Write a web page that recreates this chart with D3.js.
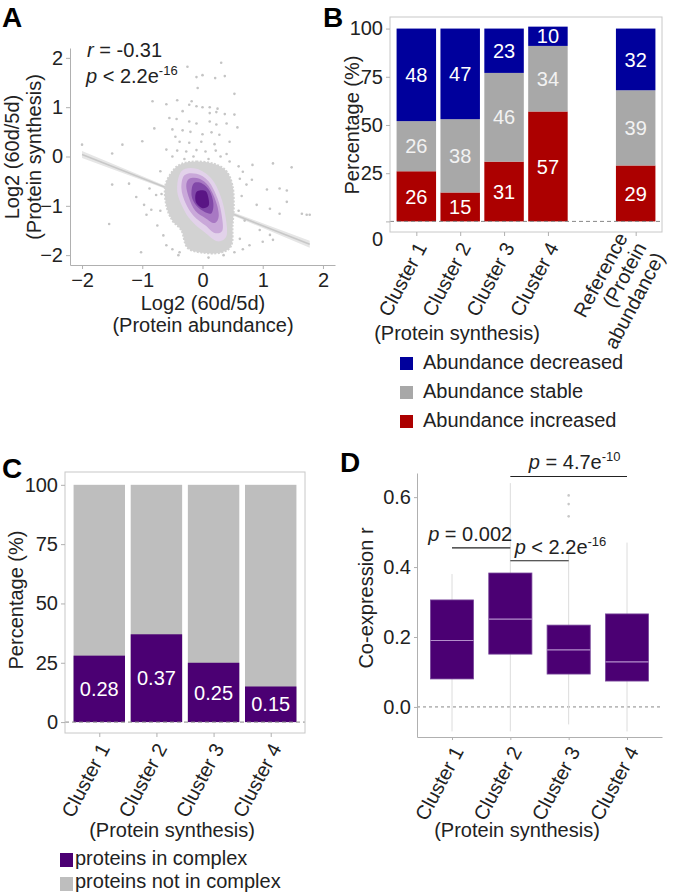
<!DOCTYPE html>
<html>
<head>
<meta charset="utf-8">
<script src="https://cdn.jsdelivr.net/npm/d3@7"></script>
<style>
body { margin: 0; background: #fff; }
text { font-family: "Liberation Sans", Arial, sans-serif; fill: #222; }
</style>
</head>
<body>
<script>
// ---------- panel A : protein synthesis vs abundance ----------
var outX = [0.31,-0.25,-0.1,0,0.21,0.37,-0.08,0.53,-0.83,-0.6,-0.42,-0.22,-0.1,0,0.12,0.25,-0.33,0.12,0.23,0.37,0.53,-0.55,-0.43,-0.22,-0.1,0.12,0.23,0.4,0.58,-0.8,-0.5,-0.33,-0.2,0,0.15,0.28,-1.33,-1.0,-2.0,-0.38,-0.22,-0.02,-0.6,-0.42,-0.27,-0.1,0.05,0.22,
  -0.18,0.83,-1.5,-1.5,-1.22,-1.55,-1.02,-1.1,-0.97,-0.85,-0.93,-0.88,-0.77,-0.68,1.17,1.48,0.67,0.82,0.73,1.07,1.28,1.4,0.9,1.12,1.28,1.4,1.65,1.73,1.78,0.95,1.12,1.17,1.0,0.62,0.78,0.67,0.53,-0.6,-0.5,-0.38,
  -0.5,-0.3,0.3,0.45,0.6,-0.7,0.62,0.65,0.6,0.7,-0.7,-0.75,-0.65,-0.4,0.1,0.35,-0.15,0.1,0.2,-0.45,0.45,0.4];
var outY = [1.9,1.82,1.61,1.65,1.59,1.63,1.39,1.27,1.12,1.06,1.14,1.05,1.02,1.0,1.0,0.97,0.92,0.88,0.9,0.86,0.85,0.78,0.76,0.71,0.67,0.71,0.65,0.67,0.59,0.57,0.55,0.53,0.5,0.45,0.49,0.44,0.24,0.31,0.24,0.3,0.28,0.3,0.14,0.12,0.1,0.13,0.1,0.12,
  1.12,-0.17,0.06,-0.57,-0.55,-1.37,-1.94,-0.82,-0.98,-1.08,-1.18,-0.65,-0.78,-0.76,-0.14,-0.22,-0.31,-0.47,-0.57,-0.67,-0.65,-0.69,-0.98,-1.06,-1.16,-0.92,-1.16,-1.18,-1.18,-1.49,-1.59,-1.69,-1.73,-1.67,-1.8,-1.88,-1.94,-1.8,-1.88,-1.94,
  0.0,-0.05,0.0,-0.1,-0.2,-0.3,-0.45,-0.8,-1.1,-1.3,-1.1,-1.4,-1.6,-2.0,-2.05,-2.0,0.0,-0.05,0.25,0.4,0.3,0.05];
// outline of the dense grey cloud
var coreX = [-0.35,-0.1,0.2,0.4,0.5,0.52,0.5,0.48,0.3,0.0,-0.25,-0.35,-0.5,-0.6,-0.62,-0.5];
var coreY = [-0.15,-0.1,-0.15,-0.3,-0.6,-1.0,-1.4,-1.8,-1.95,-1.95,-1.85,-1.5,-1.3,-1.0,-0.6,-0.3];
// density contours, outer to inner
var densityLevels = [
  [[-0.35,-0.3],[-0.1,-0.25],[0.15,-0.45],[0.3,-0.8],[0.38,-1.2],[0.4,-1.6],[0.25,-1.72],[0.05,-1.55],[-0.15,-1.35],[-0.3,-1.1],[-0.42,-0.7]],
  [[-0.3,-0.38],[-0.1,-0.35],[0.1,-0.5],[0.25,-0.85],[0.32,-1.2],[0.33,-1.5],[0.2,-1.55],[0.05,-1.4],[-0.15,-1.2],[-0.28,-0.95],[-0.35,-0.65]],
  [[-0.22,-0.45],[-0.05,-0.45],[0.1,-0.6],[0.22,-0.9],[0.27,-1.2],[0.2,-1.35],[0.05,-1.25],[-0.12,-1.1],[-0.22,-0.85],[-0.27,-0.6]],
  [[-0.15,-0.55],[0.0,-0.55],[0.12,-0.7],[0.18,-0.95],[0.15,-1.15],[0.03,-1.12],[-0.1,-1.0],[-0.18,-0.8]],
  [[-0.08,-0.7],[0.05,-0.7],[0.1,-0.85],[0.1,-1.0],[0.0,-1.05],[-0.1,-0.95],[-0.12,-0.8]]
];
var fitX = [-2.0, -0.1, 1.78];
var fitY = [0.04, -0.87, -1.78];
var fitCI = [0.07, 0.015, 0.07];
var aTicks = [-2, -1, 0, 1, 2];

// ---------- panel B : abundance change per cluster ----------
var bCats = ['Cluster 1', 'Cluster 2', 'Cluster 3', 'Cluster 4', 'Reference'];
var bIncreased = [26, 15, 31, 57, 29];
var bStable = [26, 38, 46, 34, 39];
var bDecreased = [48, 47, 23, 10, 32];
var bTicks = [0, 25, 50, 75, 100];

// ---------- panel C : proteins in complex ----------
var cCats = ['Cluster 1', 'Cluster 2', 'Cluster 3', 'Cluster 4'];
var cInComplex = [0.28, 0.37, 0.25, 0.15];
var cTicks = [0, 25, 50, 75, 100];

// ---------- panel D : co-expression boxplots ----------
var dCats = ['Cluster 1', 'Cluster 2', 'Cluster 3', 'Cluster 4'];
var dLow = [-0.07, -0.07, -0.05, -0.07];
var dQ1 = [0.08, 0.151, 0.094, 0.074];
var dMedian = [0.19, 0.251, 0.163, 0.129];
var dQ3 = [0.306, 0.383, 0.234, 0.266];
var dHigh = [0.38, 0.64, 0.44, 0.47];
var dOutliers = [['Cluster 3', 0.605], ['Cluster 3', 0.58], ['Cluster 3', 0.545]];
var dTicks = [0, 0.2, 0.4, 0.6];

var purple = '#4b0073';
var axisGrey = '#b0b0b0';

var svg = d3.select('body').append('svg')
    .attr('width', 676)
    .attr('height', 893);

function panelLetter(t, x, y) {
  svg.append('text').attr('x', x).attr('y', y)
    .attr('font-size', 28).attr('font-weight', 'bold').style('fill', '#000')
    .text(t);
}

function styleAxis(g) {
  g.selectAll('text').attr('font-size', 20).attr('fill', '#222');
  g.selectAll('line').attr('stroke', axisGrey);
  g.select('.domain').attr('stroke', axisGrey);
}

// rotated category labels, lines = array of strings
function rotLabel(g, x, y, lines) {
  var t = g.append('text')
    .attr('transform', 'translate(' + x + ',' + y + ') rotate(-62)')
    .attr('text-anchor', 'end')
    .attr('font-size', 20);
  var off = -(lines.length - 1) / 2 * 1.05;
  lines.forEach(function(s, i) {
    t.append('tspan').attr('x', 0)
      .attr('dy', (i == 0 ? off + 0.35 : 1.05) + 'em')
      .text(s);
  });
}

// ================= A =================
panelLetter('A', 2, 27);
var ax = d3.scaleLinear().domain([-2.2, 2.2]).range([70, 335]);
var ay = d3.scaleLinear().domain([-2.2, 2.2]).range([265, 48]);
var gA = svg.append('g');

var band = d3.area()
    .x(function(d, i) { return ax(fitX[i]); })
    .y0(function(d, i) { return ay(fitY[i] - fitCI[i]); })
    .y1(function(d, i) { return ay(fitY[i] + fitCI[i]); });
gA.append('path').datum(fitX).attr('d', band).attr('fill', '#e6e6e6');
gA.append('line')
    .attr('x1', ax(fitX[0])).attr('y1', ay(fitY[0]))
    .attr('x2', ax(fitX[2])).attr('y2', ay(fitY[2]))
    .attr('stroke', '#c8c8c8').attr('stroke-width', 1.5);

gA.selectAll('circle.pt').data(outX).enter().append('circle')
    .attr('cx', function(d) { return ax(d); })
    .attr('cy', function(d, i) { return ay(outY[i]); })
    .attr('r', 1.3).attr('fill', '#c4c4c4');

var blobLine = d3.line()
    .x(function(d) { return ax(d[0]); })
    .y(function(d) { return ay(d[1]); })
    .curve(d3.curveCardinalClosed);
gA.append('path')
    .datum(coreX.map(function(v, i) { return [v, coreY[i]]; }))
    .attr('d', blobLine).attr('fill', '#d2d2d2')
    .attr('stroke', '#d2d2d2').attr('stroke-width', 2).attr('stroke-dasharray', '2,1.5');
var levelFill = ['#e2d2ea', '#c9a8d9', '#a878c3', '#8148a8', '#5a1585'];
densityLevels.forEach(function(pts, i) {
  gA.append('path').datum(pts).attr('d', blobLine).attr('fill', levelFill[i]);
});

var axA = gA.append('g').attr('transform', 'translate(0,265)')
    .call(d3.axisBottom(ax).tickValues(aTicks).tickFormat(d3.format('d')).tickSize(4).tickSizeOuter(0).tickPadding(4));
styleAxis(axA);
var ayA = gA.append('g').attr('transform', 'translate(70,0)')
    .call(d3.axisLeft(ay).tickValues(aTicks).tickFormat(d3.format('d')).tickSize(4).tickSizeOuter(0).tickPadding(3));
styleAxis(ayA);

gA.append('text').attr('x', 203).attr('y', 310).attr('text-anchor', 'middle')
    .attr('font-size', 20).text('Log2 (60d/5d)');
gA.append('text').attr('x', 203).attr('y', 332).attr('text-anchor', 'middle')
    .attr('font-size', 20).text('(Protein abundance)');
gA.append('text').attr('transform', 'translate(19,157) rotate(-90)').attr('text-anchor', 'middle')
    .attr('font-size', 20).text('Log2 (60d/5d)');
gA.append('text').attr('transform', 'translate(41,157) rotate(-90)').attr('text-anchor', 'middle')
    .attr('font-size', 20).text('(Protein synthesis)');

var rTxt = gA.append('text').attr('x', 87).attr('y', 57).attr('font-size', 20);
rTxt.append('tspan').attr('font-style', 'italic').text('r');
rTxt.append('tspan').text(' = -0.31');
var pTxt = gA.append('text').attr('x', 86).attr('y', 83).attr('font-size', 20);
pTxt.append('tspan').attr('font-style', 'italic').text('p');
pTxt.append('tspan').text(' < 2.2e');
pTxt.append('tspan').attr('font-size', 13).attr('dy', -8).text('-16');

// ================= B =================
panelLetter('B', 323, 27);
var bDomain = bCats.slice(0, 4).concat(['gap'], bCats.slice(4));
var bx = d3.scalePoint().domain(bDomain).range([390, 662]).padding(0.6);
var by = d3.scaleLinear().domain([-5.5, 106]).range([232, 17]);
var bw = bx.step() * 0.9;
var gB = svg.append('g');

var bRows = bCats.map(function(c, i) {
  return { cat: c, inc: bIncreased[i], sta: bStable[i], dec: bDecreased[i] };
});
var bKeys = ['inc', 'sta', 'dec'];
var bColor = { inc: '#ac0000', sta: '#a8a8a8', dec: '#00009c' };
var bStack = d3.stack().keys(bKeys)(bRows);
bStack.forEach(function(layer) {
  var k = layer.key;
  gB.selectAll('rect.' + k).data(layer).enter().append('rect')
    .attr('x', function(d) { return bx(d.data.cat) - bw / 2; })
    .attr('y', function(d) { return by(d[1]); })
    .attr('width', bw)
    .attr('height', function(d) { return by(d[0]) - by(d[1]); })
    .attr('fill', bColor[k]);
  gB.selectAll('text.' + k).data(layer).enter().append('text')
    .attr('x', function(d) { return bx(d.data.cat); })
    .attr('y', function(d) { return by((d[0] + d[1]) / 2); })
    .attr('dy', '0.36em').attr('text-anchor', 'middle')
    .attr('font-size', 20).style('fill', k == 'sta' ? '#f2f2f2' : '#fff')
    .text(function(d) { return d.data[k]; });
});
gB.append('line').attr('x1', 390).attr('x2', 662).attr('y1', by(0)).attr('y2', by(0))
    .attr('stroke', '#888').attr('stroke-dasharray', '4,3');
gB.append('rect').attr('x', 390).attr('y', 17).attr('width', 272).attr('height', 215)
    .attr('fill', 'none').attr('stroke', '#c8c8c8');

var byAx = gB.append('g').attr('transform', 'translate(390,0)')
    .call(d3.axisLeft(by).tickValues(bTicks).tickSize(4).tickSizeOuter(0).tickPadding(3));
styleAxis(byAx);
byAx.select('.domain').remove();
byAx.selectAll('.tick').filter(function(d) { return d == 0; }).select('text').attr('dy', '1.2em');
var bxAx = gB.append('g').attr('transform', 'translate(0,232)')
    .call(d3.axisBottom(bx).tickValues(bCats).tickSize(4).tickSizeOuter(0).tickFormat(''));
styleAxis(bxAx);
bxAx.select('.domain').remove();
bCats.forEach(function(c) {
  var lines = c == 'Reference' ? ['Reference', '(Protein', 'abundance)'] : [c];
  rotLabel(gB, bx(c) + 5, 244, lines);
});
gB.append('text').attr('transform', 'translate(359,125) rotate(-90)').attr('text-anchor', 'middle')
    .attr('font-size', 20).text('Percentage (%)');
gB.append('text').attr('x', 457).attr('y', 340).attr('text-anchor', 'middle')
    .attr('font-size', 20).text('(Protein synthesis)');
var bLegend = [['dec', 'Abundance decreased'], ['sta', 'Abundance stable'], ['inc', 'Abundance increased']];
bLegend.forEach(function(d, i) {
  gB.append('rect').attr('x', 400).attr('y', 357 + i * 29).attr('width', 13).attr('height', 13)
    .attr('fill', bColor[d[0]]);
  gB.append('text').attr('x', 423).attr('y', 369 + i * 29).attr('font-size', 20).text(d[1]);
});

// ================= C =================
panelLetter('C', 2, 478);
var cx = d3.scalePoint().domain(cCats).range([65, 305]).padding(0.6);
var cy = d3.scaleLinear().domain([-4.6, 105.4]).range([733, 472]);
var cw = cx.step() * 0.9;
var gC = svg.append('g');
gC.selectAll('rect.bg').data(cCats).enter().append('rect')
    .attr('x', function(d) { return cx(d) - cw / 2; })
    .attr('y', cy(100)).attr('width', cw).attr('height', cy(0) - cy(100))
    .attr('fill', '#bebebe');
gC.selectAll('rect.in').data(cInComplex).enter().append('rect')
    .attr('x', function(d, i) { return cx(cCats[i]) - cw / 2; })
    .attr('y', function(d) { return cy(d * 100); })
    .attr('width', cw)
    .attr('height', function(d) { return cy(0) - cy(d * 100); })
    .attr('fill', purple);
gC.selectAll('text.val').data(cInComplex).enter().append('text')
    .attr('x', function(d, i) { return cx(cCats[i]); })
    .attr('y', function(d) { return cy(d * 50); })
    .attr('dy', '0.36em').attr('text-anchor', 'middle').attr('font-size', 20)
    .style('fill', '#fff')
    .text(function(d) { return d.toFixed(2); });
gC.append('line').attr('x1', 65).attr('x2', 305).attr('y1', cy(0)).attr('y2', cy(0))
    .attr('stroke', '#888').attr('stroke-dasharray', '4,3');
gC.append('rect').attr('x', 65).attr('y', 472).attr('width', 240).attr('height', 261)
    .attr('fill', 'none').attr('stroke', '#c8c8c8');
var cyAx = gC.append('g').attr('transform', 'translate(65,0)')
    .call(d3.axisLeft(cy).tickValues(cTicks).tickSize(4).tickSizeOuter(0).tickPadding(3));
styleAxis(cyAx);
cyAx.select('.domain').remove();
var cxAx = gC.append('g').attr('transform', 'translate(0,733)')
    .call(d3.axisBottom(cx).tickSize(4).tickSizeOuter(0).tickFormat(''));
styleAxis(cxAx);
cxAx.select('.domain').remove();
cCats.forEach(function(c) { rotLabel(gC, cx(c) + 5, 745, [c]); });
gC.append('text').attr('transform', 'translate(23,600) rotate(-90)').attr('text-anchor', 'middle')
    .attr('font-size', 20).text('Percentage (%)');
gC.append('text').attr('x', 172).attr('y', 837).attr('text-anchor', 'middle')
    .attr('font-size', 20).text('(Protein synthesis)');
var cLegend = [[purple, 'proteins in complex'], ['#bebebe', 'proteins not in complex']];
cLegend.forEach(function(d, i) {
  gC.append('rect').attr('x', 60).attr('y', 853 + i * 24).attr('width', 13).attr('height', 14)
    .attr('fill', d[0]);
  gC.append('text').attr('x', 75).attr('y', 865 + i * 23).attr('font-size', 20).text(d[1]);
});

// ================= D =================
panelLetter('D', 340, 472);
var dx = d3.scalePoint().domain(dCats).range([417, 662]).padding(0.6);
var dy = d3.scaleLinear().domain([-0.086, 0.669]).range([737, 473]);
var dw = dx.step() * 0.74;
var gD = svg.append('g');
gD.append('line').attr('x1', 417).attr('x2', 662).attr('y1', dy(0)).attr('y2', dy(0))
    .attr('stroke', '#888').attr('stroke-dasharray', '3,3');
dCats.forEach(function(c, i) {
  gD.append('line').attr('x1', dx(c)).attr('x2', dx(c))
    .attr('y1', dy(dLow[i])).attr('y2', dy(dHigh[i]))
    .attr('stroke', '#dcdcdc');
  gD.append('rect').attr('x', dx(c) - dw / 2).attr('y', dy(dQ3[i]))
    .attr('width', dw).attr('height', dy(dQ1[i]) - dy(dQ3[i]))
    .attr('fill', purple).attr('stroke', '#7a4a9c').attr('stroke-width', 0.8);
  gD.append('line').attr('x1', dx(c) - dw / 2).attr('x2', dx(c) + dw / 2)
    .attr('y1', dy(dMedian[i])).attr('y2', dy(dMedian[i]))
    .attr('stroke', '#b48fcc').attr('stroke-width', 1.2);
});
gD.selectAll('circle.out').data(dOutliers).enter().append('circle')
    .attr('cx', function(d) { return dx(d[0]); })
    .attr('cy', function(d) { return dy(d[1]); })
    .attr('r', 1.3).attr('fill', '#c8c8c8');

var dyAx = gD.append('g').attr('transform', 'translate(417,0)')
    .call(d3.axisLeft(dy).tickValues(dTicks).tickFormat(d3.format('.1f')).tickSize(3).tickSizeOuter(0).tickPadding(3));
styleAxis(dyAx);
var dxAx = gD.append('g').attr('transform', 'translate(0,737)')
    .call(d3.axisBottom(dx).tickSize(3).tickSizeOuter(0).tickFormat(''));
styleAxis(dxAx);
dCats.forEach(function(c) { rotLabel(gD, dx(c) + 6, 748, [c]); });
gD.append('text').attr('transform', 'translate(373,598) rotate(-90)').attr('text-anchor', 'middle')
    .attr('font-size', 20).text('Co-expression r');
gD.append('text').attr('x', 517).attr('y', 837).attr('text-anchor', 'middle')
    .attr('font-size', 20).text('(Protein synthesis)');

// significance brackets: from, to, bar level, text
var dSig = [
  ['Cluster 1', 'Cluster 2', 0.455, ' = 0.002', null, -11],
  ['Cluster 2', 'Cluster 3', 0.418, ' < 2.2e', '-16', 21],
  ['Cluster 2', 'Cluster 4', 0.659, ' = 4.7e', '-10', 6]
];
dSig.forEach(function(s) {
  var x1 = dx(s[0]), x2 = dx(s[1]);
  gD.append('line').attr('x1', x1).attr('x2', x2).attr('y1', dy(s[2])).attr('y2', dy(s[2]))
    .attr('stroke', '#222').attr('stroke-width', 1.2);
  var t = gD.append('text').attr('x', (x1 + x2) / 2 + s[5]).attr('y', dy(s[2]) - 7)
    .attr('text-anchor', 'middle').attr('font-size', 20);
  t.append('tspan').attr('font-style', 'italic').text('p');
  t.append('tspan').text(s[3]);
  if (s[4]) t.append('tspan').attr('font-size', 13).attr('dy', -8).text(s[4]);
});
</script>
</body>
</html>
